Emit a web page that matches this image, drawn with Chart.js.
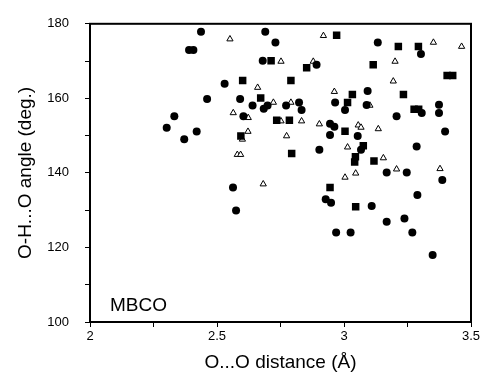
<!DOCTYPE html>
<html>
<head>
<meta charset="utf-8">
<script src="https://cdn.jsdelivr.net/npm/chart.js@4.4.1/dist/chart.umd.min.js"></script>
<style>
  body { margin: 0; background: #fff; }
  #wrap { width: 485px; height: 375px; }
</style>
</head>
<body>
<div id="wrap"><canvas id="myChart" width="485" height="375"></canvas></div>
<script>
// filled circles
var circleX = [2.302, 2.332, 2.371, 2.390, 2.407, 2.420, 2.437, 2.461, 2.530, 2.563,
               2.575, 2.591, 2.604, 2.640, 2.680, 2.690, 2.730, 2.684, 2.699, 2.772,
               2.823, 2.833, 2.892, 2.903, 2.928, 2.949, 2.945, 2.945, 2.962, 2.965,
               2.969, 3.004, 3.026, 3.054, 3.067, 3.093, 3.089, 3.109, 3.133, 3.168,
               3.168, 3.207, 3.238, 3.247, 3.269, 3.289, 3.286, 3.303, 3.306, 3.349,
               3.374, 3.374, 3.387, 3.398];
var circleY = [152.1, 155.2, 149.0, 173.0, 173.0, 151.1, 177.9, 159.8, 163.9, 136.1,
               129.9, 159.8, 155.2, 158.1, 170.1, 177.9, 175.0, 157.2, 158.1, 158.1,
               158.9, 156.9, 169.0, 146.2, 132.9, 132.0, 150.2, 153.2, 152.4, 158.9,
               124.0, 156.9, 124.0, 149.9, 146.2, 162.0, 158.2, 131.1, 175.0, 140.1,
               126.9, 155.2, 127.8, 140.1, 124.0, 134.1, 147.1, 171.9, 156.1, 118.0,
               158.3, 156.1, 138.1, 151.1];

// filled squares
var squareX = [2.601, 2.594, 2.672, 2.713, 2.735, 2.785, 2.791, 2.794, 2.853, 2.971,
               2.945, 3.014, 3.033, 3.004, 3.076, 3.045, 3.042, 3.046, 3.118, 3.115,
               3.214, 3.293, 3.234, 3.276, 3.294, 3.406, 3.428];
var squareY = [164.8, 149.9, 160.1, 170.1, 154.1, 154.1, 164.8, 145.2, 168.2, 176.9,
               136.1, 158.9, 161.0, 151.2, 147.3, 144.3, 142.9, 130.9, 143.2, 169.0,
               173.9, 173.9, 161.0, 157.1, 157.1, 166.1, 166.1];

// open triangles
var triX = [2.551, 2.660, 2.752, 2.879, 2.919, 2.564, 2.623, 2.622, 2.600, 2.580,
            2.593, 2.682, 2.722, 2.791, 2.752, 2.774, 2.833, 2.903, 2.962, 3.014,
            3.004, 3.046, 3.056, 3.067, 3.102, 3.135, 3.155, 3.194, 3.201, 3.207,
            3.352, 3.463, 3.378];
var triY = [175.9, 162.9, 169.9, 169.9, 176.8, 156.1, 154.8, 151.1, 149.0, 144.9,
            144.9, 137.0, 158.9, 158.9, 153.9, 149.9, 153.9, 153.1, 161.8, 146.9,
            138.8, 139.9, 152.8, 152.2, 158.1, 151.8, 144.0, 164.6, 169.9, 141.0,
            175.0, 173.9, 141.1];

var xLabels = [2, 2.5, 3, 3.5];
var yLabels = [100, 120, 140, 160, 180];

function pts(xs, ys) {
    return xs.map(function (x, i) { return { x: x, y: ys[i] }; });
}

var fontFam = "'Liberation Sans', Arial, Helvetica, sans-serif";

// frame round the plot and the panel label
var framePlugin = {
    id: 'frame',
    afterDraw: function (chart) {
        var a = chart.chartArea, c = chart.ctx;
        c.save();
        c.strokeStyle = '#000';
        c.lineWidth = 2;
        c.strokeRect(a.left, a.top, a.right - a.left, a.bottom - a.top);
        c.fillStyle = '#000';
        c.font = '19px ' + fontFam;
        c.textBaseline = 'middle';
        c.fillText('MBCO', a.left + 20, a.bottom - 16);
        c.restore();
    }
};

var ctx = document.getElementById("myChart");
var myChart = new Chart(ctx, {
    type: 'scatter',
    data: {
        datasets: [
            {
                label: 'circles',
                data: pts(circleX, circleY),
                pointStyle: 'circle',
                pointRadius: 4,
                backgroundColor: '#000',
                borderColor: '#000',
                borderWidth: 0
            },
            {
                label: 'squares',
                data: pts(squareX, squareY),
                pointStyle: 'rect',
                pointRadius: 5.3,
                backgroundColor: '#000',
                borderColor: '#000',
                borderWidth: 0
            },
            {
                label: 'triangles',
                data: pts(triX, triY),
                pointStyle: 'triangle',
                pointRadius: 3.6,
                backgroundColor: '#fff',
                borderColor: '#000',
                borderWidth: 1
            }
        ]
    },
    options: {
        responsive: false,
        devicePixelRatio: 1,
        animation: false,
        layout: { padding: { left: 0, right: 14, top: 18, bottom: 0 } },
        plugins: {
            legend: { display: false },
            tooltip: { enabled: false }
        },
        scales: {
            x: {
                type: 'linear',
                min: 2,
                max: 3.5,
                afterFit: function (scale) { scale.height = 53; },
                grid: { drawOnChartArea: false, drawTicks: true, tickLength: 5, color: '#000', lineWidth: 1 },
                border: { display: false },
                ticks: {
                    stepSize: 0.25,
                    padding: 2,
                    maxRotation: 0,
                    color: '#000',
                    font: { family: fontFam, size: 13 },
                    callback: function (v) {
                        return xLabels.indexOf(v) >= 0 ? String(v) : '';
                    }
                },
                title: {
                    display: true,
                    text: 'O...O distance (Å)',
                    color: '#000',
                    font: { family: fontFam, size: 19 },
                    padding: { top: 0, bottom: 1 }
                }
            },
            y: {
                type: 'linear',
                min: 100,
                max: 180,
                afterFit: function (scale) { scale.width = 90; },
                grid: { drawOnChartArea: false, drawTicks: true, tickLength: 5, color: '#000', lineWidth: 1 },
                border: { display: false },
                ticks: {
                    stepSize: 10,
                    padding: 16,
                    color: '#000',
                    font: { family: fontFam, size: 13 },
                    callback: function (v) {
                        return yLabels.indexOf(v) >= 0 ? String(v) : '';
                    }
                },
                title: {
                    display: true,
                    text: 'O-H...O angle (deg.)',
                    color: '#000',
                    font: { family: fontFam, size: 19 },
                    padding: { top: 14, bottom: 0 }
                }
            }
        }
    },
    plugins: [framePlugin]
});
</script>
</body>
</html>
